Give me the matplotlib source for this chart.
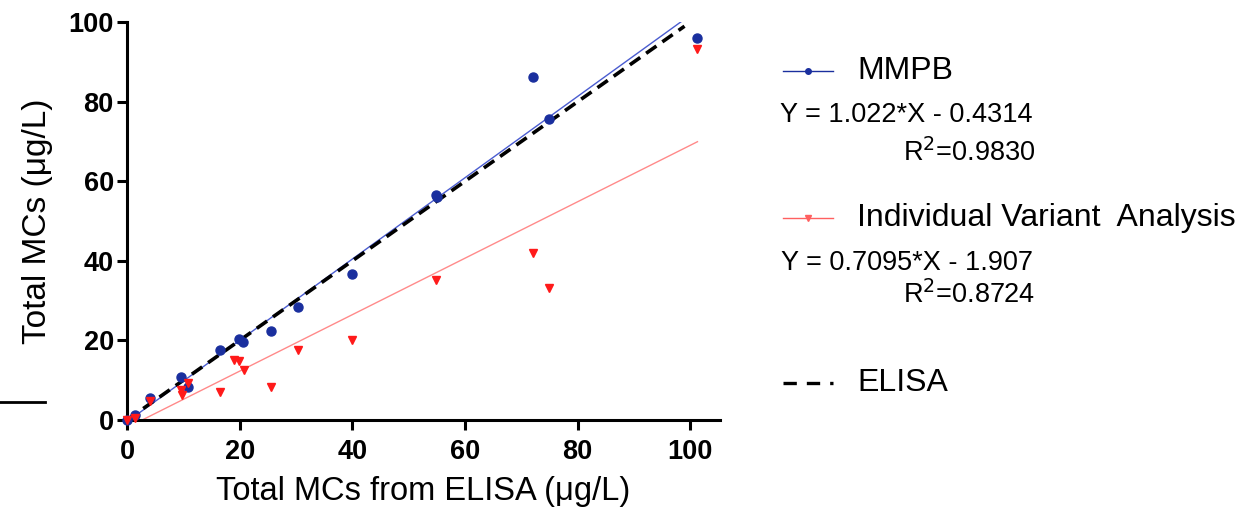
import numpy as np
import matplotlib
matplotlib.use("Agg")
import matplotlib.pyplot as plt
from matplotlib.lines import Line2D

plt.rcParams['font.family'] = ['Liberation Sans', 'DejaVu Sans']

# Data
elisa = [0.0, 1.5, 4.0, 9.6, 10.8, 16.6, 19.9, 20.6, 25.5, 30.4, 39.9, 54.9, 55.1, 72.1, 75.0, 101.3]
mmpb = [0.0, 1.3, 5.6, 10.7, 8.2, 17.7, 20.4, 19.6, 22.5, 28.4, 36.8, 56.6, 56.0, 86.2, 75.7, 96.0]

elisa_iva = [0.0, 1.5, 4.0, 9.6, 9.8, 10.8, 16.6, 19.0, 19.9, 20.8, 25.5, 30.4, 39.9, 54.9, 72.1, 75.0, 101.3]
iva = [0.0, 0.4, 4.9, 7.6, 6.3, 9.3, 7.0, 15.2, 14.9, 12.6, 8.2, 17.7, 20.2, 35.1, 42.1, 33.1, 93.3]

# regression results shown in the legend
mmpb_fit = (1.022, -0.4314, 0.9830)
iva_fit = (0.7095, -1.907, 0.8724)

blue = "#1a2f9e"
red = "#ff1a1a"

fig = plt.figure(figsize=(12.5, 5.17), dpi=100)
ax = fig.add_axes([0.1016, 0.1876, 0.4744, 0.7694])

# fit lines over data range
xs = np.linspace(0, max(elisa), 200)
ax.plot(xs, mmpb_fit[0] * xs + mmpb_fit[1], color="#4a5cd0", lw=1.0, zorder=2)
xs2 = np.linspace(0, max(elisa_iva), 200)
ax.plot(xs2, iva_fit[0] * xs2 + iva_fit[1], color="#ff8a8a", lw=1.0, zorder=2)
ax.plot([0, 99], [0, 99], color="black", lw=2.6, ls=(0, (3.5, 2)), zorder=3)

ax.plot(elisa, mmpb, 'o', color=blue, ms=6.5, mec=blue, clip_on=False, zorder=4)
ax.plot(elisa_iva, iva, 'v', color=red, ms=6, mec=red, clip_on=False, zorder=4)

ax.set_xlim(0, 105.3)
ax.set_ylim(0, 100)
ax.set_xticks([0, 20, 40, 60, 80, 100])
ax.set_yticks([0, 20, 40, 60, 80, 100])
for s in ['top', 'right']:
    ax.spines[s].set_visible(False)
for s in ['left', 'bottom']:
    ax.spines[s].set_linewidth(2.2)
ax.tick_params(width=2.2, length=7.5, labelsize=19.5)
ax.tick_params(axis='x', pad=6)
ax.tick_params(axis='y', pad=2)
for lab in ax.get_xticklabels() + ax.get_yticklabels():
    lab.set_fontweight('bold')
ax.set_xlabel("Total MCs from ELISA (\u03bcg/L)", fontsize=23.5, labelpad=8)
ax.set_ylabel("Total MCs (\u03bcg/L)", fontsize=24, labelpad=11)

# custom legend on the right
def px(x, y):
    return x / 1250, 1 - y / 517

def leg_handle(y, color, marker, ls, lw):
    x0, yy = px(783, y)
    x1, _ = px(833, y)
    fig.add_artist(Line2D([x0, x1], [yy, yy], color=color, lw=lw, ls=ls,
                          transform=fig.transFigure))
    if marker:
        fig.add_artist(Line2D([(x0 + x1) / 2], [yy], color=color, marker=marker, ms=4,
                              transform=fig.transFigure))

leg_handle(71, blue, 'o', '-', 1.0)
fig.text(*px(857, 71), "MMPB", fontsize=23, va='center', ha='left')
fig.text(*px(1033, 115), "Y = %.3f*X - %.4f" % (mmpb_fit[0], -mmpb_fit[1]), fontsize=19.5,
         va='center', ha='right')
fig.text(*px(1035, 153), "R$^2$=%.4f" % mmpb_fit[2], fontsize=19.5, va='center', ha='right')

leg_handle(218, "#ff6060", 'v', '-', 1.0)
fig.text(*px(857, 218), "Individual Variant  Analysis", fontsize=23, va='center', ha='left')
fig.text(*px(1033, 263), "Y = %.4f*X - %.3f" % (iva_fit[0], -iva_fit[1]), fontsize=19.5,
         va='center', ha='right')
fig.text(*px(1035, 295), "R$^2$=%.4f" % iva_fit[2], fontsize=19.5, va='center', ha='right')

leg_handle(383, "black", None, (0, (4, 3)), 2.4)
fig.text(*px(857, 383), "ELISA", fontsize=23, va='center', ha='left')

# stray short line at left edge of the reference
fig.add_artist(Line2D([0, 45 / 1250], [1 - 402 / 517] * 2, color="black", lw=2,
                      transform=fig.transFigure))

fig.savefig("out.png", dpi=100)
